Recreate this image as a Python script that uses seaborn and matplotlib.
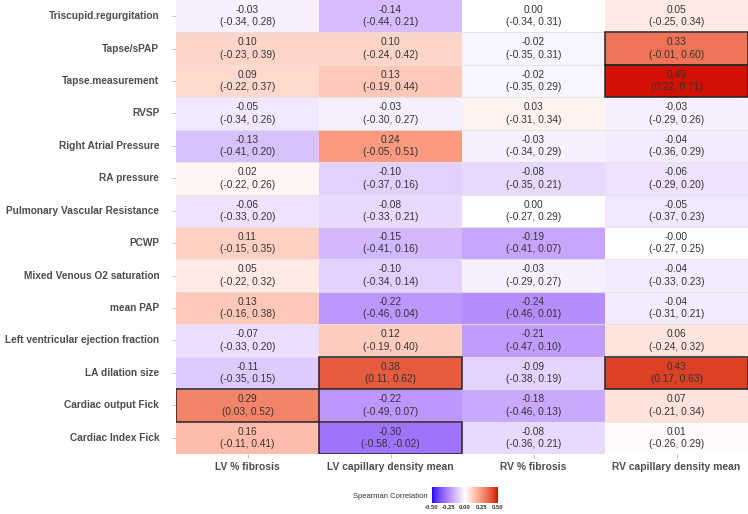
import numpy as np
import pandas as pd
import matplotlib
matplotlib.use("Agg")
import matplotlib.pyplot as plt
from matplotlib.colors import ListedColormap
from matplotlib.patches import Rectangle
import seaborn as sns

sns.set_theme(style="white")
plt.rcParams['font.family'] = ['Liberation Sans', 'DejaVu Sans']

# Data
variables = ["Triscupid.regurgitation", "Tapse/sPAP", "Tapse.measurement", "RVSP",
             "Right Atrial Pressure", "RA pressure", "Pulmonary Vascular Resistance",
             "PCWP", "Mixed Venous O2 saturation", "mean PAP",
             "Left ventricular ejection fraction", "LA dilation size",
             "Cardiac output Fick", "Cardiac Index Fick"]
measures = ["LV % fibrosis", "LV capillary density mean", "RV % fibrosis",
            "RV capillary density mean"]

rho = np.array([
    [-0.03, -0.14, 0.00, 0.05],
    [0.10, 0.10, -0.02, 0.33],
    [0.09, 0.13, -0.02, 0.49],
    [-0.05, -0.03, 0.03, -0.03],
    [-0.13, 0.24, -0.03, -0.04],
    [0.02, -0.10, -0.08, -0.06],
    [-0.06, -0.08, 0.00, -0.05],
    [0.11, -0.15, -0.19, -0.0],
    [0.05, -0.10, -0.03, -0.04],
    [0.13, -0.22, -0.24, -0.04],
    [-0.07, 0.12, -0.21, 0.06],
    [-0.11, 0.38, -0.09, 0.43],
    [0.29, -0.22, -0.18, 0.07],
    [0.16, -0.30, -0.08, 0.01],
])
ci_low = np.array([
    [-0.34, -0.44, -0.34, -0.25],
    [-0.23, -0.24, -0.35, -0.01],
    [-0.22, -0.19, -0.35, 0.22],
    [-0.34, -0.30, -0.31, -0.29],
    [-0.41, -0.05, -0.34, -0.36],
    [-0.22, -0.37, -0.35, -0.29],
    [-0.33, -0.33, -0.27, -0.37],
    [-0.15, -0.41, -0.41, -0.27],
    [-0.22, -0.34, -0.29, -0.33],
    [-0.16, -0.46, -0.46, -0.31],
    [-0.33, -0.19, -0.47, -0.24],
    [-0.35, 0.11, -0.38, 0.17],
    [0.03, -0.49, -0.46, -0.21],
    [-0.11, -0.58, -0.36, -0.26],
])
ci_high = np.array([
    [0.28, 0.21, 0.31, 0.34],
    [0.39, 0.42, 0.31, 0.60],
    [0.37, 0.44, 0.29, 0.71],
    [0.26, 0.27, 0.34, 0.26],
    [0.20, 0.51, 0.29, 0.29],
    [0.26, 0.16, 0.21, 0.20],
    [0.20, 0.21, 0.29, 0.23],
    [0.35, 0.16, 0.07, 0.25],
    [0.32, 0.14, 0.27, 0.23],
    [0.38, 0.04, 0.01, 0.21],
    [0.20, 0.40, 0.10, 0.32],
    [0.15, 0.62, 0.19, 0.63],
    [0.52, 0.07, 0.13, 0.34],
    [0.41, -0.02, 0.21, 0.29],
])
# cells outlined in the figure (row, column)
highlighted = [(1, 3), (2, 3), (11, 1), (11, 3), (12, 0), (13, 1)]


# diverging blue-white-red scale interpolated in Lab space (like ggplot's gradient2)
def srgb_to_lab(rgb):
    c = np.asarray(rgb, float)
    c = np.where(c > 0.04045, ((c + 0.055) / 1.055) ** 2.4, c / 12.92)
    m = np.array([[0.4124, 0.3576, 0.1805], [0.2126, 0.7152, 0.0722], [0.0193, 0.1192, 0.9505]])
    xyz = m @ c / np.array([0.95047, 1.0, 1.08883])
    f = np.where(xyz > 0.008856, np.cbrt(xyz), 7.787 * xyz + 16 / 116)
    return np.array([116 * f[1] - 16, 500 * (f[0] - f[1]), 200 * (f[1] - f[2])])


def lab_to_srgb(lab):
    L, a, b = lab
    fy = (L + 16) / 116
    fx = fy + a / 500
    fz = fy - b / 200
    f = np.array([fx, fy, fz])
    xyz = np.where(f ** 3 > 0.008856, f ** 3, (f - 16 / 116) / 7.787) * np.array([0.95047, 1.0, 1.08883])
    m = np.array([[3.2406, -1.5372, -0.4986], [-0.9689, 1.8758, 0.0415], [0.0557, -0.2040, 1.0570]])
    c = m @ xyz
    c = np.where(c > 0.0031308, 1.055 * np.clip(c, 0, None) ** (1 / 2.4) - 0.055, 12.92 * c)
    return np.clip(c, 0, 1)


low, mid, high = srgb_to_lab([0.1, 0.0, 0.95]), srgb_to_lab([1, 1, 1]), srgb_to_lab([0.82, 0.0, 0.0])
cols = []
for t in np.linspace(-1, 1, 256):
    lab = mid + (low - mid) * (-t) if t < 0 else mid + (high - mid) * t
    cols.append(lab_to_srgb(lab))
cmap = ListedColormap(cols)

df = pd.DataFrame(rho, index=variables, columns=measures)
annot = np.array([[f"{rho[i, j]:.2f}\n({ci_low[i, j]:.2f}, {ci_high[i, j]:.2f})"
                   for j in range(len(measures))] for i in range(len(variables))])

fig = plt.figure(figsize=(7.48, 5.14), dpi=100)
ax = fig.add_axes([176 / 748, 1 - 454 / 514, 1 - 176 / 748, 454 / 514])
sns.heatmap(df, ax=ax, cmap=cmap, vmin=-0.5, vmax=0.5, annot=annot, fmt="",
            annot_kws={"fontsize": 7.3, "color": "#333333", "linespacing": 1.3},
            cbar=False, linewidths=0)

# light row separators
for y in range(1, len(variables)):
    ax.axhline(y, color="#e2e2e2", lw=0.6)

for (i, j) in highlighted:
    ax.add_patch(Rectangle((j, i), 1, 1, fill=False, edgecolor="#222222", lw=1.1, zorder=5))

ax.tick_params(axis="both", length=3, width=0.5, color="#aaaaaa", left=True, bottom=True, pad=3)
ax.tick_params(axis="y", pad=9)
ax.set_yticklabels(variables, rotation=0, fontsize=7.3, fontweight="bold", color="#4d4d4d")
ax.set_xticklabels(measures, rotation=0, fontsize=7.4, fontweight="bold", color="#4d4d4d")
ax.set_xlabel("")
ax.set_ylabel("")
for s in ax.spines.values():
    s.set_visible(False)

# colorbar at the bottom
cax = fig.add_axes([432 / 748, 1 - 503 / 514, 66 / 748, 16 / 514])
cb = fig.colorbar(ax.collections[0], cax=cax, orientation="horizontal")
cb.set_ticks([-0.5, -0.25, 0, 0.25, 0.5])
cb.set_ticklabels(["-0.50", "-0.25", "0.00", "0.25", "0.50"])
cb.outline.set_visible(False)
cax.tick_params(labelsize=4.3, length=0, pad=1.5, colors="#333333")
for t in cax.get_xticklabels():
    t.set_fontweight("bold")
fig.text(428 / 748, 1 - 497 / 514, "Spearman Correlation", ha="right", va="center",
         fontsize=5.5, color="#333333")

fig.savefig("out.png", dpi=100)
